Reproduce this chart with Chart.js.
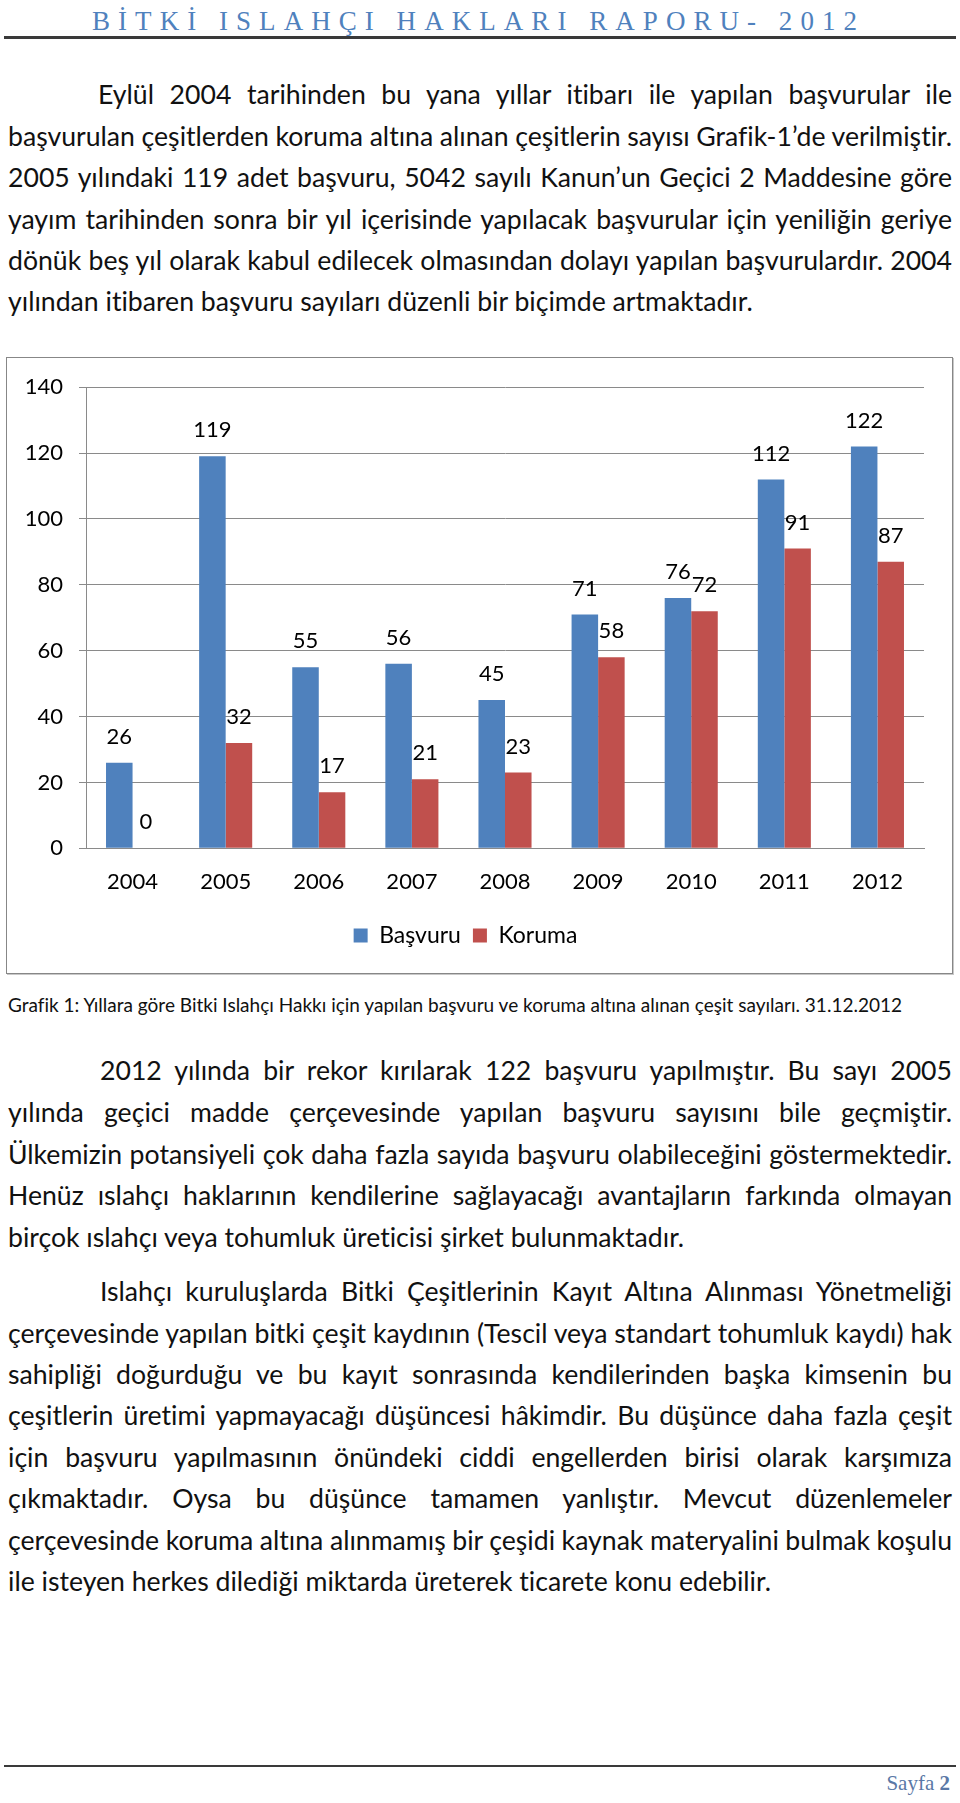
<!DOCTYPE html>
<html><head><meta charset="utf-8">
<script src="https://cdn.jsdelivr.net/npm/chart.js@4.4.1/dist/chart.umd.min.js"></script>
<style>
html,body{margin:0;padding:0;background:#fff;}
body{width:960px;height:1803px;position:relative;overflow:hidden;font-family:Lato,"Noto Sans",sans-serif;color:#111;font-variant-ligatures:none;font-feature-settings:"liga" 0,"clig" 0;}
.hdr{position:absolute;left:92px;font-family:"Liberation Serif",serif;font-size:27px;color:#4f81bd;white-space:nowrap;line-height:30px;}
.rule{position:absolute;left:4px;width:952px;background:#3a3a3a;}
.ln{position:absolute;white-space:nowrap;line-height:30px;font-size:22px;}
.cap{position:absolute;left:8px;white-space:nowrap;line-height:24px;font-size:16px;}
#box{position:absolute;left:6px;top:357px;width:945px;height:615px;border:1px solid #878787;box-shadow:1px 1px 0 #c8c8c8;}
#cv{position:absolute;left:0;top:0;}
.foot{position:absolute;right:10px;font-family:"Liberation Serif",serif;font-size:21px;color:#5a78a6;line-height:26px;white-space:nowrap;}
</style></head>
<body>
<div class="hdr" id="hdr">BİTKİ ISLAHÇI HAKLARI RAPORU- 2012</div>
<div class="rule" style="top:36px;height:3px;"></div>
<div id="text"></div>
<div id="box"><canvas id="cv" width="945" height="615"></canvas></div>
<div class="cap" id="cap">Grafik 1: Yıllara göre Bitki Islahçı Hakkı için yapılan başvuru ve koruma altına alınan çeşit sayıları. 31.12.2012</div>
<div class="rule" style="top:1765px;height:2px;"></div>
<div class="foot" id="foot">Sayfa <b>2</b></div>
<script>
// ---- chart data ----
const years = ['2004','2005','2006','2007','2008','2009','2010','2011','2012'];
const basvuru = [26, 119, 55, 56, 45, 71, 76, 112, 122];
const koruma = [0, 32, 17, 21, 23, 58, 72, 91, 87];
const seriesNames = ['Başvuru', 'Koruma'];
const yMin = 0, yMax = 140, yStep = 20;

// ---- text content ----
const para1 = [
 'Eylül 2004 tarihinden bu yana yıllar itibarı ile yapılan başvurular ile',
 'başvurulan çeşitlerden koruma altına alınan çeşitlerin sayısı Grafik-1’de verilmiştir.',
 '2005 yılındaki 119 adet başvuru, 5042 sayılı Kanun’un Geçici 2 Maddesine göre',
 'yayım tarihinden sonra bir yıl içerisinde yapılacak başvurular için yeniliğin geriye',
 'dönük beş yıl olarak kabul edilecek olmasından dolayı yapılan başvurulardır. 2004',
 'yılından itibaren başvuru sayıları düzenli bir biçimde artmaktadır.'
];
const para2 = [
 '2012 yılında bir rekor kırılarak 122 başvuru yapılmıştır. Bu sayı 2005',
 'yılında geçici madde çerçevesinde yapılan başvuru sayısını bile geçmiştir.',
 'Ülkemizin potansiyeli çok daha fazla sayıda başvuru olabileceğini göstermektedir.',
 'Henüz ıslahçı haklarının kendilerine sağlayacağı avantajların farkında olmayan',
 'birçok ıslahçı veya tohumluk üreticisi şirket bulunmaktadır.'
];
const para3 = [
 'Islahçı kuruluşlarda Bitki Çeşitlerinin Kayıt Altına Alınması Yönetmeliği',
 'çerçevesinde yapılan bitki çeşit kaydının (Tescil veya standart tohumluk kaydı) hak',
 'sahipliği doğurduğu ve bu kayıt sonrasında kendilerinden başka kimsenin bu',
 'çeşitlerin üretimi yapmayacağı düşüncesi hâkimdir. Bu düşünce daha fazla çeşit',
 'için başvuru yapılmasının önündeki ciddi engellerden birisi olarak karşımıza',
 'çıkmaktadır. Oysa bu düşünce tamamen yanlıştır. Mevcut düzenlemeler',
 'çerçevesinde koruma altına alınmamış bir çeşidi kaynak materyalini bulmak koşulu',
 'ile isteyen herkes dilediği miktarda üreterek ticarete konu edebilir.'
];

// ---- text layout ----
const paraLayout = [
 {lines: para1, start: 94.3, step: 41.4, indent: 98, lastEnd: 759},
 {lines: para2, start: 1070.4, step: 41.6, indent: 100, lastEnd: 682},
 {lines: para3, start: 1291.1, step: 41.4, indent: 100, lastEnd: 768}
];
const textDiv = document.getElementById('text');
const allLines = [];
paraLayout.forEach(p => {
  p.els = p.lines.map((t, i) => {
    const d = document.createElement('div');
    d.className = 'ln';
    d.textContent = t;
    d.style.left = (i === 0 ? p.indent : 8) + 'px';
    d.style.top = (p.start + i * p.step - 15) + 'px';
    textDiv.appendChild(d);
    allLines.push(d);
    return d;
  });
});
// calibrate font size using last (unjustified) lines
let ratios = paraLayout.map(p => {
  const el = p.els[p.els.length - 1];
  return (p.lastEnd - 8) / el.getBoundingClientRect().width;
});
const fs = 22 * ratios.reduce((a, b) => a + b, 0) / ratios.length;
allLines.forEach(el => el.style.fontSize = fs + 'px');
paraLayout.forEach(p => {
  p.els.forEach((el, i) => {
    if (i === p.els.length - 1) return;
    const left = i === 0 ? p.indent : 8;
    const target = 952 - left;
    el.style.wordSpacing = '0px';
    const w = el.getBoundingClientRect().width;
    const n = (el.textContent.match(/ /g) || []).length;
    if (n) el.style.wordSpacing = ((target - w) / n) + 'px';
  });
});
// caption fit
const cap = document.getElementById('cap');
cap.style.fontSize = (16 * 895 / cap.getBoundingClientRect().width) + 'px';
cap.style.top = (1004.8 - 12) + 'px';
// header fit
const hdr = document.getElementById('hdr');
hdr.style.top = (20.7 - 15) + 'px';
const hw = hdr.getBoundingClientRect().width;
const hn = hdr.textContent.length;
hdr.style.letterSpacing = ((765 - hw) / (hn - 1)) + 'px';
// footer
const foot = document.getElementById('foot');
foot.style.top = (1783 - 13) + 'px';

// ---- chart ----
const valueLabels = {
  id: 'valueLabels',
  afterDatasetsDraw(chart) {
    const ctx = chart.ctx;
    ctx.save();
    ctx.font = '22px Lato';
    ctx.fillStyle = '#000';
    ctx.textAlign = 'center';
    ctx.textBaseline = 'middle';
    chart.data.datasets.forEach((ds, i) => {
      chart.getDatasetMeta(i).data.forEach((bar, j) => {
        ctx.fillText(String(ds.data[j]), bar.x, bar.y - 26);
      });
    });
    ctx.restore();
  }
};
const gridColor = '#8a8a8a';
new Chart(document.getElementById('cv'), {
  type: 'bar',
  data: {
    labels: years,
    datasets: [
      {label: seriesNames[0], data: basvuru, backgroundColor: '#4f81bd', borderWidth: 0},
      {label: seriesNames[1], data: koruma, backgroundColor: '#c0504d', borderWidth: 0}
    ]
  },
  options: {
    responsive: false,
    animation: false,
    devicePixelRatio: 1,
    datasets: {bar: {categoryPercentage: 0.57, barPercentage: 1}},
    layout: {padding: {left: 0, right: 28, top: 28.7, bottom: 16}},
    plugins: {
      legend: {
        position: 'bottom',
        labels: {boxWidth: 14, boxHeight: 14, padding: 12, color: '#000', font: {family: 'Lato', size: 23}}
      },
      tooltip: {enabled: false}
    },
    scales: {
      x: {
        grid: {display: false, drawTicks: false, tickLength: 0},
        border: {display: true, color: gridColor, width: 1},
        ticks: {color: '#000', font: {family: 'Lato', size: 22}, padding: 20.5, maxRotation: 0},
        afterFit: s => { s.height = 63.7; }
      },
      y: {
        min: yMin, max: yMax,
        grid: {color: gridColor, lineWidth: 1, tickLength: 7, drawTicks: true},
        border: {display: true, color: gridColor, width: 1},
        ticks: {stepSize: yStep, color: '#000', font: {family: 'Lato', size: 22}, padding: 16},
        afterFit: s => { s.width = 79; }
      }
    }
  },
  plugins: [valueLabels]
});
</script>
</body></html>
